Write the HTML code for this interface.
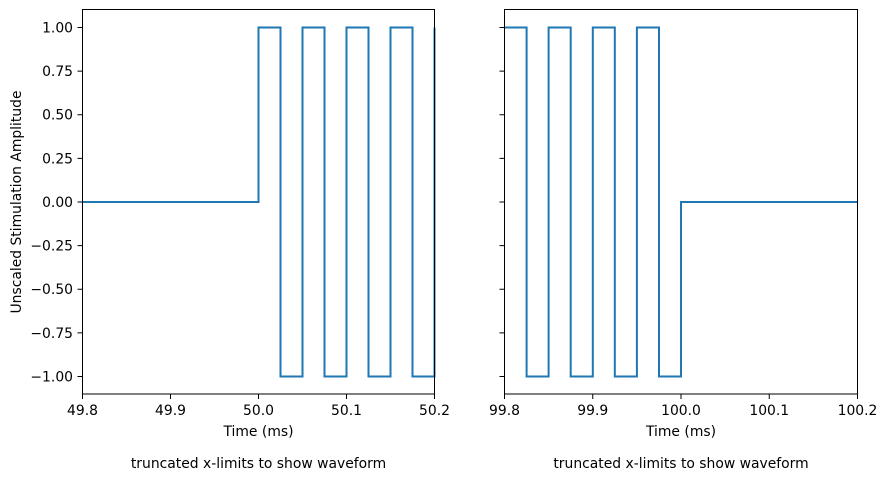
<!DOCTYPE html>
<html><head><meta charset="utf-8"><style>
html,body{margin:0;padding:0;background:#fff;}
svg{display:block;font-family:"DejaVu Sans","Liberation Sans",sans-serif;}
</style></head><body>
<svg width="886" height="480" viewBox="0 0 886 480" xmlns="http://www.w3.org/2000/svg">
<rect width="886" height="480" fill="#fff"/>
<g fill="none" stroke="#1f77b4" stroke-width="2" stroke-linejoin="miter">
<path d="M82.5,202 H258.5 V27.5 H280.5 V376.5 H302.5 V27.5 H324.5 V376.5 H346.5 V27.5 H368.5 V376.5 H390.5 V27.5 H412.5 V376.5 H434.5 V27.5"/>
<path d="M504.5,27.5 H526.6 V376.5 H548.6 V27.5 H570.7 V376.5 H592.8 V27.5 H614.8 V376.5 H636.9 V27.5 H659 V376.5 H681 V202 H857.5"/>
</g>
<g fill="none" stroke="#000" stroke-width="1">
<rect x="82.5" y="9.5" width="352" height="384.5"/>
<rect x="504.5" y="9.5" width="353" height="384.5"/>
<path d="M82.5,394v5M170.5,394v5M258.5,394v5M346.5,394v5M434.5,394v5"/>
<path d="M504.5,394v5M592.75,394v5M681,394v5M769.25,394v5M857.5,394v5"/>
<path d="M82.5,27.5h-5M82.5,71.1h-5M82.5,114.75h-5M82.5,158.4h-5M82.5,202h-5M82.5,245.6h-5M82.5,289.25h-5M82.5,332.9h-5M82.5,376.5h-5"/>
<path d="M504.5,27.5h-5M504.5,71.1h-5M504.5,114.75h-5M504.5,158.4h-5M504.5,202h-5M504.5,245.6h-5M504.5,289.25h-5M504.5,332.9h-5M504.5,376.5h-5"/>
</g>
<g font-size="13.9" fill="#000" text-anchor="middle">
<text x="82.5" y="415">49.8</text><text x="170.5" y="415">49.9</text><text x="258.5" y="415">50.0</text><text x="346.5" y="415">50.1</text><text x="434.5" y="415">50.2</text>
<text x="504.5" y="415">99.8</text><text x="592.75" y="415">99.9</text><text x="681" y="415">100.0</text><text x="769.25" y="415">100.1</text><text x="857.5" y="415">100.2</text>
<text x="258.5" y="436">Time (ms)</text><text x="681" y="436">Time (ms)</text>
<text x="258.5" y="468">truncated x-limits to show waveform</text><text x="681" y="468">truncated x-limits to show waveform</text>
</g>
<g font-size="13.9" fill="#000" text-anchor="end">
<text x="73" y="32.5">1.00</text><text x="73" y="76.1">0.75</text><text x="73" y="119.7">0.50</text><text x="73" y="163.4">0.25</text><text x="73" y="207">0.00</text><text x="73" y="250.6">−0.25</text><text x="73" y="294.2">−0.50</text><text x="73" y="337.9">−0.75</text><text x="73" y="381.5">−1.00</text>
</g>
<text transform="translate(21,202) rotate(-90)" font-size="13.9" text-anchor="middle">Unscaled Stimulation Amplitude</text>
</svg>
</body></html>
